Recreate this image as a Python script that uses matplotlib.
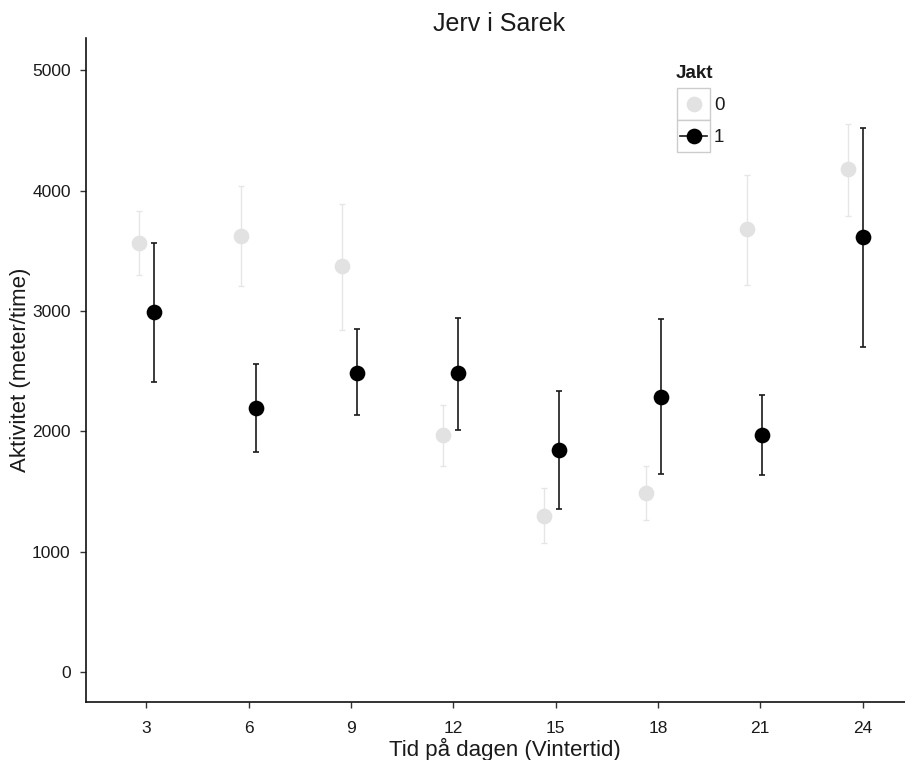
import matplotlib.pyplot as plt
import numpy as np
from matplotlib.lines import Line2D
from matplotlib.patches import Rectangle

plt.rcParams['font.family'] = ['Liberation Sans', 'DejaVu Sans']

hours = [3, 6, 9, 12, 15, 18, 21, 24]

# Jakt = 0 (mean and error bar ends)
mean_0 = [3563, 3621, 3372, 1968, 1296, 1487, 3679, 4178]
upper_0 = [3829, 4037, 3887, 2218, 1528, 1711, 4128, 4551]
lower_0 = [3297, 3206, 2841, 1711, 1071, 1262, 3214, 3787]

# Jakt = 1
mean_1 = [2990, 2193, 2483, 2483, 1844, 2284, 1968, 3613]
upper_1 = [3563, 2558, 2849, 2940, 2334, 2932, 2301, 4518]
lower_1 = [2409, 1827, 2135, 2010, 1354, 1645, 1636, 2699]

GREY = '#e2e2e2'
BLACK = '#000000'
TEXT = '#1a1a1a'

W, H = 905, 760
fig = plt.figure(figsize=(W / 100, H / 100), dpi=100)
ax = fig.add_axes([86 / W, 1 - 702 / H, (923 - 86) / W, (702 - 38) / H])

# dodged x positions for the two groups
h = np.array(hours, dtype=float)
slot = 3.01 + (h - 3) * 0.990
dodge = 0.22


def draw_group(x, mean, lo, hi, color, ecolor, lw):
    mean = np.array(mean)
    yerr = [mean - np.array(lo), np.array(hi) - mean]
    ax.errorbar(x, mean, yerr=yerr, fmt='none', ecolor=ecolor,
                elinewidth=lw, capsize=2.0, capthick=lw, zorder=2)
    ax.plot(x, mean, 'o', color=color, markersize=11.3,
            markeredgewidth=0, zorder=3)


draw_group(slot - dodge, mean_0, lower_0, upper_0, GREY, '#e6e6e6', 1.0)
draw_group(slot + dodge, mean_1, lower_1, upper_1, BLACK, '#1a1a1a', 1.2)

ax.set_xlim(1.23, 25.77)
ax.set_ylim(-249, 5267)
ax.set_xticks(hours)
ax.set_yticks([0, 1000, 2000, 3000, 4000, 5000])

for side in ('top', 'right'):
    ax.spines[side].set_visible(False)
for side in ('left', 'bottom'):
    ax.spines[side].set_linewidth(1.2)
    ax.spines[side].set_color('#111111')

ax.tick_params(axis='both', length=4.5, width=1, color='#333333',
               labelsize=12.5, labelcolor=TEXT)
ax.tick_params(axis='x', pad=9)
ax.tick_params(axis='y', pad=6.5)

ax.set_xlabel('Tid på dagen (Vintertid)', fontsize=16, color=TEXT, labelpad=1.5)
ax.set_ylabel('Aktivitet (meter/time)', fontsize=16, color=TEXT, labelpad=1)
fig.text(499 / W, 1 - 24 / H, 'Jerv i Sarek', fontsize=18, color=TEXT,
         ha='center', va='center')


# legend with boxed keys
def fx(px):
    return px / W


def fy(py):
    return 1 - py / H


fig.text(fx(676), fy(74), 'Jakt', fontsize=13.5, fontweight='bold',
         color=TEXT, ha='left', va='center')
keys = [('0', GREY, None), ('1', BLACK, '#1a1a1a')]
for i, (label, color, line) in enumerate(keys):
    top = 88 + i * 32
    fig.add_artist(Rectangle((fx(677), fy(top + 32)), 33 / W, 32 / H,
                             transform=fig.transFigure, facecolor='white',
                             edgecolor='#cccccc', linewidth=1))
    cy = fy(top + 16)
    if line:
        fig.add_artist(Line2D([fx(680), fx(707)], [cy, cy], color=line,
                              linewidth=1.2, transform=fig.transFigure))
    fig.add_artist(Line2D([fx(693.5)], [cy], marker='o', color=color,
                          markersize=11.3, markeredgewidth=0,
                          transform=fig.transFigure))
    fig.text(fx(714), fy(top + 17.5), label, fontsize=13.5, color=TEXT,
             ha='left', va='center')

fig.savefig('out.png', dpi=100)
